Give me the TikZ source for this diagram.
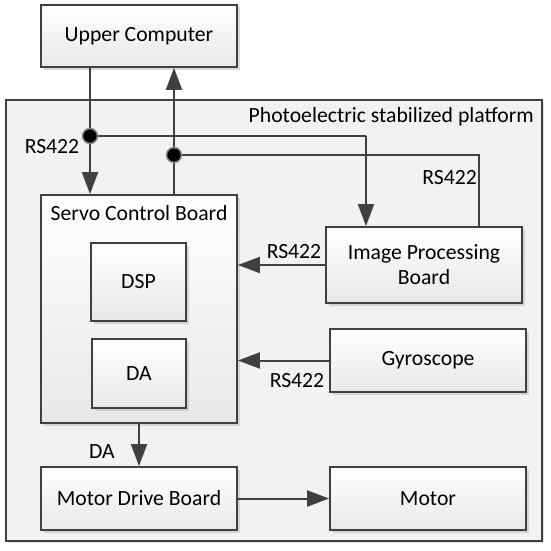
\documentclass[tikz,border=0pt]{standalone}
\usepackage{fontspec}
\setmainfont{Carlito}
\usetikzlibrary{arrows.meta,shadows,calc}
\definecolor{ln}{HTML}{404040}
\begin{document}
\begin{tikzpicture}[x=1pt,y=-1pt,
  every node/.style={font=\fontsize{21.7}{25}\selectfont, text=black},
  box/.style={draw=ln, line width=1.8pt, rectangle, inner sep=0pt,
     top color=white, bottom color=black!9,
     drop shadow={shadow xshift=2.5pt, shadow yshift=-2.5pt, fill=black!25, opacity=0.6}},
  arr/.style={draw=ln, line width=2pt, -{Triangle[length=22pt,width=16pt]}},
  conn/.style={draw=ln, line width=2pt},
  dot/.style={circle, fill=black, draw=ln!60, line width=1.5pt, minimum size=15pt, inner sep=0pt},
  lbl/.style={inner sep=1pt}]
\useasboundingbox (0,0) rectangle (550,551);
\node[draw=ln, line width=1.8pt, rectangle, fill=black!5, minimum width=536pt, minimum height=441pt,
  drop shadow={shadow xshift=2pt, shadow yshift=-2pt, fill=black!20, opacity=0.6}] (plat) at (274,320.5) {};
\node[box, minimum width=196pt, minimum height=62pt] (uc) at (139,36) {Upper Computer};
\node[box, minimum width=196pt, minimum height=228pt] (scb) at (139,309) {};
\node[lbl] (scbl) at (139,213) {Servo Control Board};
\node[box, minimum width=95pt, minimum height=78pt] (dsp) at (138.5,282) {DSP};
\node[box, minimum width=94pt, minimum height=69pt] (da) at (139,373.5) {DA};
\node[box, minimum width=196pt, minimum height=76pt, align=center] (ipb) at (424,265) {Image Processing\\Board};
\node[box, minimum width=196pt, minimum height=63pt] (gyro) at (428,360.5) {Gyroscope};
\node[box, minimum width=196pt, minimum height=63pt] (mdb) at (139,498.5) {Motor Drive Board};
\node[box, minimum width=196pt, minimum height=63pt] (motor) at (428,498.5) {Motor};
\node[lbl, anchor=east] (ptitle) at (535,117) {Photoelectric stabilized platform};
\coordinate (d1) at (90,136);
\coordinate (d2) at (174,155);
\coordinate (c1) at (366,136);
\coordinate (c2) at (479,155);
% connectors
\draw[arr] (uc.south -| d1) -- (scb.north -| d1);
\draw[arr] (scb.north -| d2) -- (uc.south -| d2);
\draw[conn] (d1) -- (c1);
\draw[arr] (c1) -- (ipb.north -| c1);
\draw[conn] (d2) -- (c2) -- (ipb.north -| c2);
\draw[arr] (ipb.west) -- (scb.east |- ipb.west);
\draw[arr] (gyro.west) -- (scb.east |- gyro.west);
\draw[arr] (scb.south) -- (mdb.north);
\draw[arr] (mdb.east) -- (motor.west);
\node[dot] (dot1) at (d1) {};
\node[dot] (dot2) at (d2) {};
% labels
\node[lbl] (l1) at (52,147) {RS422};
\node[lbl, anchor=east] (l2) at (478,178) {RS422};
\node[lbl] (l3) at (294,252) {RS422};
\node[lbl] (l4) at (297,381) {RS422};
\node[lbl] (l5) at (102,452) {DA};
\end{tikzpicture}
\end{document}
